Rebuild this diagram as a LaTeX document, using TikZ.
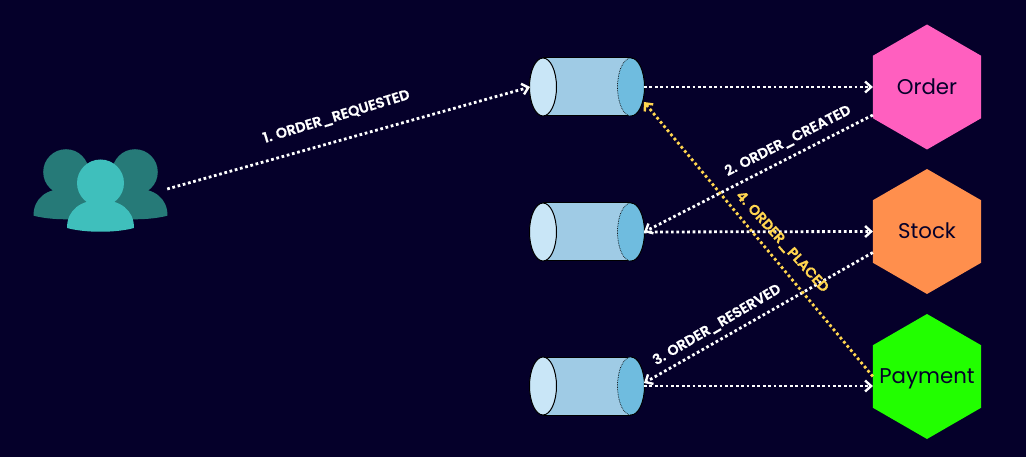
\documentclass[tikz,border=0pt]{standalone}
\usepackage{fontspec}
\setmainfont{Poppins}
\newfontfamily\labfont{Poppins SemiBold}[FakeBold=0.5]
\usetikzlibrary{arrows.meta,shapes.geometric}
\definecolor{bgnavy}{HTML}{05002A}
\definecolor{pinkhex}{HTML}{FF5FBF}
\definecolor{orangehex}{HTML}{FF8F4D}
\definecolor{greenhex}{HTML}{22FF00}
\definecolor{cylbody}{HTML}{9FCBE5}
\definecolor{cylleft}{HTML}{C9E6F7}
\definecolor{cylright}{HTML}{6FBCDF}
\definecolor{tealfront}{HTML}{3FBFBC}
\definecolor{tealback}{HTML}{267A78}
\definecolor{evtyellow}{HTML}{FFD54F}
\newcommand{\hextext}[2]{\makebox[0pt]{\raisebox{#1}[0pt][0pt]{#2}}}
\tikzset{
  x=1pt,y=-1pt,
  hexnode/.style={regular polygon,regular polygon sides=6,shape border rotate=30,minimum size=125pt,inner sep=0pt,outer sep=0pt,
    text=bgnavy,font=\fontsize{21.3}{24}\selectfont},
  holder/.style={inner sep=0pt,outer sep=0pt,minimum width=114pt,minimum height=58pt},
  flow/.style={line width=2.8pt,dash pattern=on 2.7pt off 2.7pt,draw=white,
    -{Straight Barb[length=6pt,width=11pt,line width=2.4pt]}},
  flowy/.style={flow,draw=evtyellow},
  evt/.style={text=white,font=\labfont\fontsize{14.3}{16}\selectfont,inner sep=0pt},
  cylline/.style={draw=black,line width=1pt},
}
\newcommand{\queue}[3]{%
  \node[holder] (#1) at (#2,#3) {};
  \begin{scope}[shift={(#2,#3)}]
    \fill[cylbody] (-44,-29) -- (44,-29) -- (44,29) -- (-44,29) -- cycle;
    \draw[cylline] (-44,-29) -- (44,-29) (-44,29) -- (44,29);
    \fill[cylright] (44,0) ellipse [x radius=13.5pt,y radius=29pt];
    \draw[black,line width=0.7pt,densely dotted] (44,-29) arc [start angle=-90,end angle=-270,x radius=13.5pt,y radius=-29pt];
    \draw[cylline] (44,-29) arc [start angle=90,end angle=-90,x radius=13.5pt,y radius=29pt];
    \draw[cylline,fill=cylleft] (-44,0) ellipse [x radius=13.5pt,y radius=29pt];
  \end{scope}
}
\newcommand{\person}[4]{% cx, head cy, scale, colour
  \begin{scope}[shift={(#1,#2)},scale=#3]
    \fill[#4] (-33.5,45) .. controls (-33.5,27) and (-20,17) .. (0,17) .. controls (20,17) and (33.5,27) .. (33.5,45)
      .. controls (15,50) and (-15,50) .. (-33.5,45) -- cycle;
    \fill[#4] (0,0) circle [radius=23.5pt];
  \end{scope}
}
\begin{document}
\begin{tikzpicture}
\useasboundingbox[fill=bgnavy] (0,0) rectangle (1026,457);
% users
\node[inner sep=0pt,minimum width=133pt,minimum height=78pt] (users) at (100.5,189) {};
\person{66}{172}{0.97}{tealback}
\person{135}{172}{0.97}{tealback}
\person{100.5}{183}{1}{tealfront}
% queues
\queue{qa}{587}{87}
\queue{qb}{587}{232}
\queue{qc}{587}{386}
% services
\node[hexnode,fill=pinkhex] (order) at (927,87) {\hextext{-8pt}{Order}};
\node[hexnode,fill=orangehex] (stock) at (927,231.5) {\hextext{-7pt}{Stock}};
\node[hexnode,fill=greenhex] (payment) at (927,376.5) {\hextext{-7pt}{Payment}};
% connectors
\draw[flow] (users.east) -- (qa.west);
\draw[flow] (qa.east) -- (order.west);
\draw[flow] (qb.east) -- (stock.west);
\draw[flow] (qc.east) -- (payment.west |- qc.east);
\draw[flow] ([yshift=-28pt]order.west) -- (qb.east);
\draw[flow] ([yshift=-21pt]stock.west) -- ([yshift=3pt]qc.east);
\draw[flowy] (payment.west) -- ([yshift=-15pt]qa.east);
% labels
\node[evt,rotate=17] (la) at (336.5,117) {1. ORDER\_REQUESTED};
\node[evt,rotate=27] (lb) at (788,141) {2. ORDER\_CREATED};
\node[evt,rotate=30.5] (lc) at (717,325) {3. ORDER\_RESERVED};
\node[evt,text=evtyellow,rotate=-48] (ld) at (782,242) {4. ORDER\_PLACED};
\end{tikzpicture}
\end{document}
